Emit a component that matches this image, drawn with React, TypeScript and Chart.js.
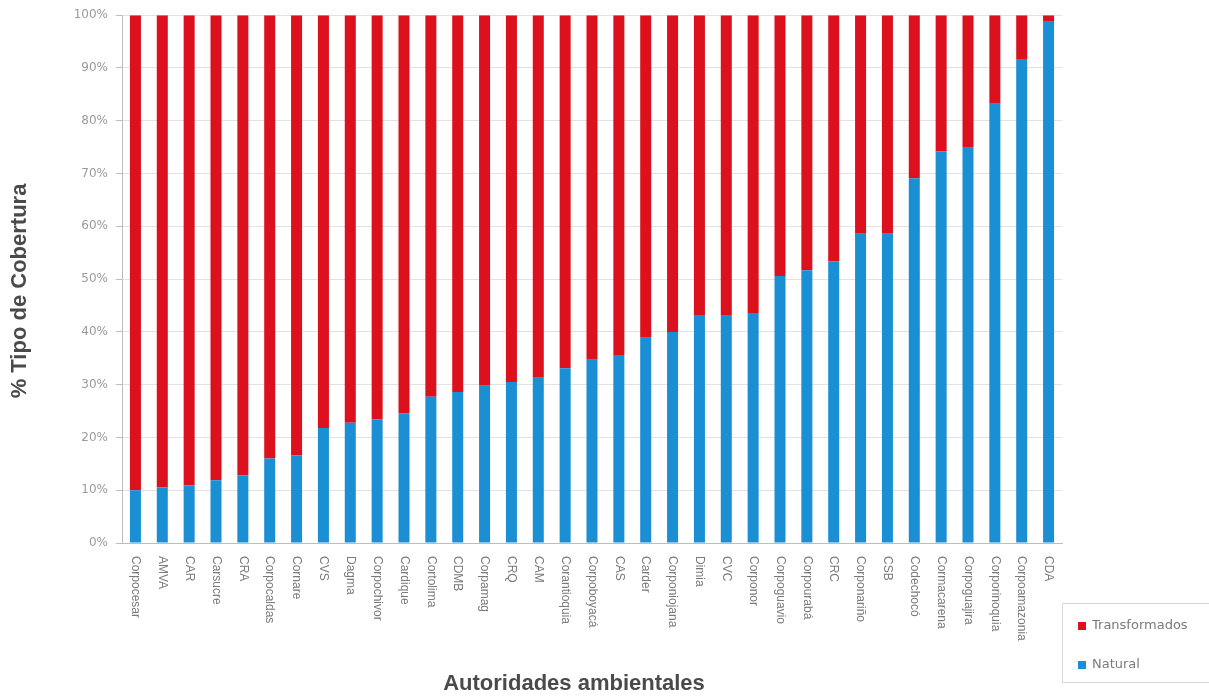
import React, { useEffect, useRef } from "react";
import { Chart, registerables } from "chart.js";

Chart.register(...registerables);

const categories: string[] = [
  "Corpocesar", "AMVA", "CAR", "Carsucre", "CRA", "Corpocaldas", "Cornare", "CVS", "Dagma",
  "Corpochivor", "Cardique", "Cortolima", "CDMB", "Corpamag", "CRQ", "CAM", "Corantioquia",
  "Corpoboyacá", "CAS", "Carder", "Corponiojana", "Dimia", "CVC", "Corponor", "Corpoguavio",
  "Corpourabá", "CRC", "Corponariño", "CSB", "Codechocó", "Cormacarena", "Corpoguajira",
  "Corporinoquia", "Corpoamazonia", "CDA",
];

const natural: number[] = [
  10.0, 10.5, 10.9, 11.9, 12.8, 16.0, 16.6, 21.8, 22.8, 23.4, 24.6, 27.7, 28.6, 29.8, 30.5,
  31.3, 33.1, 34.7, 35.6, 38.9, 40.0, 43.2, 43.2, 43.6, 50.6, 51.7, 53.4, 58.6, 58.6, 69.1,
  74.2, 74.9, 83.2, 91.7, 98.9,
];

const transformados: number[] = natural.map((v) => Math.round((100 - v) * 10) / 10);

const yTicks: number[] = [0, 10, 20, 30, 40, 50, 60, 70, 80, 90, 100];

const RED = "#dc111d";
const BLUE = "#1a8fd3";
const FONT = "'Liberation Sans', Arial, sans-serif";
const WIDE = "'DejaVu Sans', sans-serif";

const customDraw = {
  id: "customDraw",
  afterDraw(chart: any) {
    const ctx = chart.ctx;
    const xs = chart.scales.x;
    ctx.save();
    // rotated x labels (reading top to bottom)
    ctx.font = `12px ${FONT}`;
    ctx.fillStyle = "#7a7a7a";
    ctx.textAlign = "left";
    ctx.textBaseline = "middle";
    categories.forEach((c, i) => {
      const x = xs.getPixelForTick(i);
      ctx.save();
      ctx.translate(x, chart.chartArea.bottom + 13);
      ctx.rotate(Math.PI / 2);
      ctx.fillText(c, 0, 0);
      ctx.restore();
    });
    // x title
    ctx.font = `bold 22px ${FONT}`;
    ctx.fillStyle = "#4a4a4a";
    ctx.textAlign = "center";
    ctx.textBaseline = "middle";
    ctx.fillText("Autoridades ambientales", 574, 684);
    // y title
    ctx.save();
    ctx.translate(20, 291);
    ctx.rotate(-Math.PI / 2);
    ctx.fillText("% Tipo de Cobertura", 0, 0);
    ctx.restore();
    // legend
    const lx = 1062, ly = 603, lw = 150, lh = 79;
    ctx.strokeStyle = "#d8d8d8";
    ctx.lineWidth = 1;
    ctx.strokeRect(lx + 0.5, ly + 0.5, lw, lh);
    const items = [
      { label: "Transformados", color: chart.data.datasets[1].backgroundColor, y: 626 },
      { label: "Natural", color: chart.data.datasets[0].backgroundColor, y: 665 },
    ];
    ctx.font = `13px ${WIDE}`;
    ctx.textAlign = "left";
    items.forEach((it) => {
      ctx.fillStyle = it.color;
      ctx.fillRect(1078, it.y - 4, 8, 8);
      ctx.fillStyle = "#7a7a7a";
      ctx.fillText(it.label, 1092, it.y);
    });
    ctx.restore();
  },
};

export default function App() {
  const ref = useRef<HTMLCanvasElement | null>(null);
  useEffect(() => {
    if (!ref.current) return;
    const chart = new Chart(ref.current, {
      type: "bar",
      data: {
        labels: categories,
        datasets: [
          { label: "Natural", data: natural, backgroundColor: BLUE, barPercentage: 0.41, categoryPercentage: 1 },
          { label: "Transformados", data: transformados, backgroundColor: RED, barPercentage: 0.41, categoryPercentage: 1 },
        ],
      },
      options: {
        animation: false,
        responsive: false,
        maintainAspectRatio: false,
        layout: { padding: { top: 12, right: 147, left: 0, bottom: 0 } },
        plugins: { legend: { display: false }, tooltip: { enabled: false } },
        scales: {
          x: {
            stacked: true,
            grid: { display: false },
            border: { display: true, color: "#bdbdbd" },
            ticks: { display: false },
            afterFit: (s: any) => { s.height = 153; },
          },
          y: {
            stacked: true,
            min: 0,
            max: 100,
            afterBuildTicks: (s: any) => { s.ticks = yTicks.map((v) => ({ value: v })); },
            ticks: {
              color: "#9a9a9a",
              font: { size: 12, family: WIDE },
              padding: 8,
              callback: (v: any) => `${v}%`,
            },
            grid: { color: "#e2e2e2", tickLength: 6, tickColor: "#bdbdbd" },
            border: { display: true, color: "#bdbdbd" },
            afterFit: (s: any) => { s.width = 122; },
          },
        },
      },
      plugins: [customDraw],
    });
    return () => chart.destroy();
  }, []);
  return (
    <div style={{ position: "absolute", left: 0, top: 0, width: 1209, height: 696, background: "#fff" }}>
      <canvas ref={ref} width={1209} height={696} style={{ display: "block" }} />
    </div>
  );
}
